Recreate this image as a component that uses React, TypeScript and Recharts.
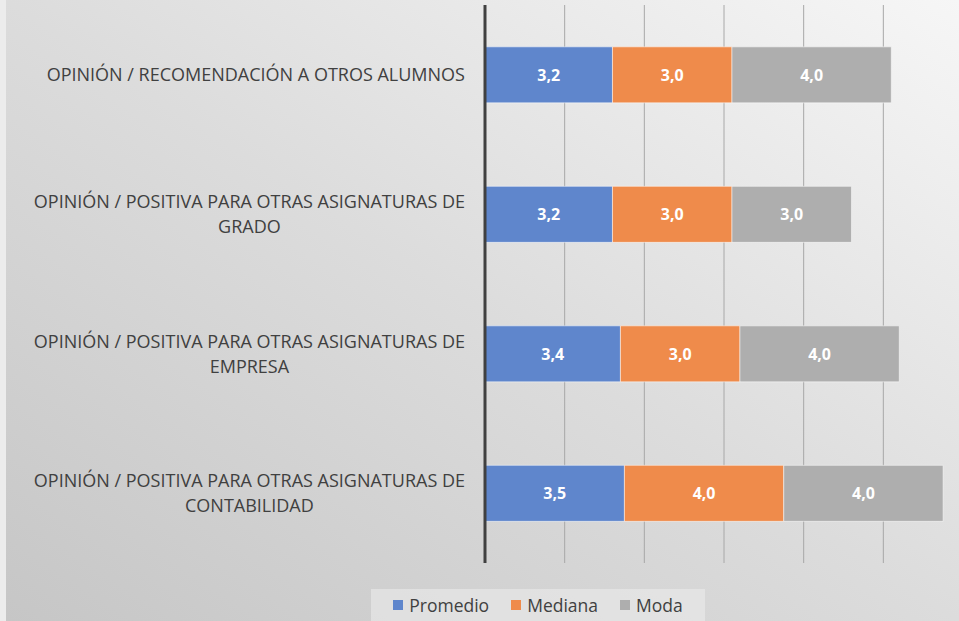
import React from "react"
import { BarChart, Bar, XAxis, YAxis, CartesianGrid, Legend, LabelList } from "recharts"

const categories = [
  "OPINIÓN / RECOMENDACIÓN A OTROS ALUMNOS",
  "OPINIÓN / POSITIVA PARA OTRAS ASIGNATURAS DE\nGRADO",
  "OPINIÓN / POSITIVA PARA OTRAS ASIGNATURAS DE\nEMPRESA",
  "OPINIÓN / POSITIVA PARA OTRAS ASIGNATURAS DE\nCONTABILIDAD",
]
const promedio = [3.2, 3.2, 3.4, 3.5]
const mediana = [3.0, 3.0, 3.0, 4.0]
const moda = [4.0, 3.0, 4.0, 4.0]
const xTicks = [0, 2, 4, 6, 8, 10, 12]

const series = [
  { key: "promedio", name: "Promedio", color: "#5F86CC" },
  { key: "mediana", name: "Mediana", color: "#EF8B4B" },
  { key: "moda", name: "Moda", color: "#AEAEAE" },
]

const data = categories.map((c, i) => ({
  name: c,
  promedio: promedio[i],
  mediana: mediana[i],
  moda: moda[i],
}))

const FONT = "'Open Sans', 'Noto Sans', sans-serif"
const LABEL_SIZE = 18

let ctx: CanvasRenderingContext2D | null = null
function measure(text: string) {
  if (!ctx) ctx = document.createElement("canvas").getContext("2d")
  if (!ctx) return text.length * 10
  ctx.font = `${LABEL_SIZE}px 'Open Sans'`
  return ctx.measureText(text).width
}

const CategoryTick = (props: any) => {
  const { x, y, payload } = props
  const lines: string[] = String(payload.value).split("\n")
  const w = Math.max(...lines.map(measure))
  const cx = x - w / 2
  const lh = 25
  const y0 = y - ((lines.length - 1) * lh) / 2
  return (
    <text textAnchor="middle" fill="#404040" fontSize={LABEL_SIZE} fontFamily={FONT}>
      {lines.map((l, i) => (
        <tspan key={i} x={cx} y={y0 + i * lh} dy="0.35em">
          {l}
        </tspan>
      ))}
    </text>
  )
}

const fmt = (v: any) => Number(v).toFixed(1).replace(".", ",")

const LegendContent = () => (
  <div
    style={{
      display: "flex",
      alignItems: "center",
      justifyContent: "center",
      gap: 22,
      height: 32,
      background: "rgba(235,235,235,0.6)",
      fontFamily: FONT,
      fontSize: 17.5,
      color: "#404040",
    }}
  >
    {series.map((s) => (
      <span key={s.key} style={{ display: "flex", alignItems: "center" }}>
        <span style={{ width: 10, height: 10, background: s.color, marginRight: 6, display: "inline-block" }} />
        {s.name}
      </span>
    ))}
  </div>
)

export default function App() {
  return (
    <div
      style={{
        position: "absolute",
        left: 0,
        top: 0,
        width: 959,
        height: 621,
        overflow: "hidden",
        background: "#ececec",
      }}
    >
      <div
        style={{
          position: "absolute",
          left: 6,
          top: 0,
          width: 953,
          height: 621,
          background: "linear-gradient(to bottom left, #f6f6f6 0%, #dcdcdc 50%, #c6c6c6 100%)",
        }}
      />
      <div style={{ position: "absolute", left: 0, top: 0 }}>
        <BarChart
          width={985}
          height={621}
          data={data}
          layout="vertical"
          margin={{ top: 5, right: 22, bottom: 26, left: 0 }}
          barCategoryGap="30%"
        >
          <CartesianGrid horizontal={false} stroke="#a8a8a8" strokeWidth={1} />
          <XAxis type="number" domain={[0, 12]} ticks={xTicks} hide />
          <YAxis
            type="category"
            dataKey="name"
            width={485}
            axisLine={{ stroke: "#404040", strokeWidth: 3 }}
            tickLine={false}
            tickMargin={14}
            tick={<CategoryTick />}
            interval={0}
          />
          {series.map((s) => (
            <Bar
              key={s.key}
              dataKey={s.key}
              name={s.name}
              stackId="a"
              fill={s.color}
              stroke="#ffffff"
              strokeOpacity={0.5}
              isAnimationActive={false}
            >
              <LabelList
                dataKey={s.key}
                position="center"
                formatter={fmt}
                fill="#ffffff"
                fontWeight="bold"
                fontSize={16}
                fontFamily={FONT}
              />
            </Bar>
          ))}
          <Legend
            content={<LegendContent />}
            wrapperStyle={{ position: "absolute", left: 371, top: 589, width: 334, height: 32, bottom: "auto" }}
          />
        </BarChart>
      </div>
    </div>
  )
}
